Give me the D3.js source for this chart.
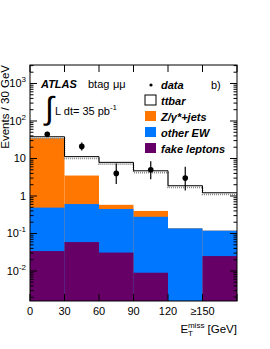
<!DOCTYPE html>
<head>
  <meta charset="utf-8">
  <script src="https://d3js.org/d3.v7.min.js"></script>
  <style>
    body { margin:0; background:#fff; }
    text { font-family: "Liberation Sans", Arial, sans-serif; fill:#000; }
  </style>
</head>
<body>
  <svg width="270" height="349"></svg>
  <script>
    var svg = d3.select("svg");

    // bins of 30 GeV, last bin is overflow (>=150)
    var binEdges = [0, 30, 60, 90, 120, 150, 180];
    var xTickLabels = ["0", "30", "60", "90", "120", "\u2265150"];

    // per-sample expectations (not stacked)
    var fake   = [0.034, 0.059, 0.031, 0.009, 0, 0.025];
    var otherEW = [0.456, 0.55, 0.42, 0.27, 0.137, 0.094];
    var zjets  = [34.5, 2.9, 0.13, 0.12, 0, 0];
    var ttbar  = [3.0, 7.7, 7.3, 4.3, 1.74, 1.1];

    // data with asymmetric (poisson) errors
    var dataX   = [15, 45, 75, 105, 135];
    var dataN   = [44, 21, 4, 5, 3];
    var dataLo  = [37.6, 16.4, 2.1, 2.8, 1.4];
    var dataHi  = [51.4, 26.6, 7.4, 8.4, 6.0];

    var yMin = 1.585e-3, yMax = 3112;

    var x = d3.scaleLinear().domain([0, 180]).range([30, 237]);
    var y = d3.scaleLog().domain([yMin, yMax]).range([301, 65]);

    var keys = ["fake", "otherEW", "zjets", "ttbar"];
    var colours = { fake: "#660066", otherEW: "#0077ff", zjets: "#ff7700", ttbar: "#ffffff" };

    var rows = d3.range(6).map(function(i) {
      return { x0: binEdges[i], x1: binEdges[i+1], fake: fake[i], otherEW: otherEW[i], zjets: zjets[i], ttbar: ttbar[i] };
    });
    var stacked = d3.stack().keys(keys)(rows);

    function yc(v) { return y(Math.max(v, yMin)); }

    // draw the stack back to front so lower layers sit on top
    stacked.slice().reverse().forEach(function(layer) {
      svg.append("g").selectAll("rect")
        .data(layer)
        .enter().append("rect")
        .attr("x", function(d) { return x(d.data.x0); })
        .attr("width", function(d) { return x(d.data.x1) - x(d.data.x0); })
        .attr("y", function(d) { return yc(d[1]); })
        .attr("height", function(d) { return Math.max(0, yc(0) - yc(d[1])); })
        .attr("fill", colours[layer.key]);
    });

    // total (ttbar top) step line with uncertainty hatch
    var totalLayer = stacked[stacked.length - 1];
    var stepPts = totalLayer.map(function(d) { return [d.data.x0, d[1]]; });
    stepPts.push([180, totalLayer[totalLayer.length - 1][1]]);
    var step = d3.line()
      .x(function(d) { return x(d[0]); })
      .y(function(d) { return yc(d[1]); })
      .curve(d3.curveStepAfter);

    svg.append("path")
      .attr("d", step(stepPts))
      .attr("transform", "translate(0,1.8)")
      .attr("fill", "none")
      .attr("stroke", "#8a8a8a")
      .attr("stroke-width", 1.6)
      .attr("stroke-dasharray", "1,1");
    svg.append("path")
      .attr("d", step(stepPts))
      .attr("fill", "none")
      .attr("stroke", "#000")
      .attr("stroke-width", 1);

    // data points
    var pts = svg.append("g");
    dataN.forEach(function(n, i) {
      pts.append("line")
        .attr("x1", x(dataX[i])).attr("x2", x(dataX[i]))
        .attr("y1", y(dataLo[i])).attr("y2", y(dataHi[i]))
        .attr("stroke", "#000").attr("stroke-width", 1.2);
      pts.append("circle")
        .attr("cx", x(dataX[i])).attr("cy", y(n))
        .attr("r", 2.8).attr("fill", "#000");
    });

    // frame
    svg.append("rect")
      .attr("x", 30).attr("y", 65).attr("width", 207).attr("height", 236)
      .attr("fill", "none").attr("stroke", "#000").attr("stroke-width", 1);

    // x ticks (bottom and top)
    var axisG = svg.append("g").attr("stroke", "#000").attr("stroke-width", 1);
    binEdges.forEach(function(v) {
      axisG.append("line").attr("x1", x(v)).attr("x2", x(v)).attr("y1", 301).attr("y2", 294);
      axisG.append("line").attr("x1", x(v)).attr("x2", x(v)).attr("y1", 65).attr("y2", 72);
    });
    svg.append("g").selectAll("text")
      .data(xTickLabels)
      .enter().append("text")
      .attr("x", function(d, i) { return x(binEdges[i]); })
      .attr("y", 315)
      .attr("text-anchor", "middle")
      .attr("font-size", 11)
      .text(function(d) { return d; });

    // y ticks, major + minor, both sides
    for (var e = -3; e <= 3; e++) {
      for (var k = 1; k <= 9; k++) {
        var v = k * Math.pow(10, e);
        if (v < yMin || v > yMax) continue;
        var len = k == 1 ? 7 : 3.5;
        axisG.append("line").attr("x1", 30).attr("x2", 30 + len).attr("y1", y(v)).attr("y2", y(v));
        axisG.append("line").attr("x1", 237).attr("x2", 237 - len).attr("y1", y(v)).attr("y2", y(v));
      }
    }
    var yTickExp = [-2, -1, 0, 1, 2, 3];
    yTickExp.forEach(function(p) {
      var t = svg.append("text")
        .attr("x", 26).attr("y", y(Math.pow(10, p)) + 4)
        .attr("text-anchor", "end")
        .attr("font-size", 11);
      if (p == 0) t.text("1");
      else if (p == 1) t.text("10");
      else {
        t.append("tspan").text("10");
        t.append("tspan").attr("dy", -5).attr("font-size", 8).text(p);
      }
    });

    // axis titles
    svg.append("text")
      .attr("transform", "translate(9,65) rotate(-90)")
      .attr("text-anchor", "end")
      .attr("font-size", 11.5)
      .text("Events / 30 GeV");

    var xt = svg.append("text")
      .attr("x", 237).attr("y", 333)
      .attr("text-anchor", "end")
      .attr("font-size", 11.5);
    xt.append("tspan").text("E");
    xt.append("tspan").attr("dy", 3).attr("font-size", 8).text("T");
    xt.append("tspan").attr("dx", -5).attr("dy", -8).attr("font-size", 8).text("miss");
    xt.append("tspan").attr("dy", 5).text("  [GeV]");

    // labels inside the plot
    svg.append("text").attr("x", 41).attr("y", 88)
      .attr("font-size", 11).attr("font-weight", "bold").attr("font-style", "italic")
      .text("ATLAS");
    svg.append("text").attr("x", 88).attr("y", 88).attr("font-size", 11).text("btag");
    svg.append("text").attr("x", 113).attr("y", 88).attr("font-size", 11).text("\u03bc\u03bc");
    svg.append("text").attr("x", 45).attr("y", 119).attr("font-size", 32)
      .attr("font-family", "Liberation Sans").text("\u222b");
    var lum = svg.append("text").attr("x", 55).attr("y", 115).attr("font-size", 11);
    lum.append("tspan").text("L dt= 35 pb");
    lum.append("tspan").attr("dy", -5).attr("font-size", 8).text("-1");

    svg.append("text").attr("x", 211).attr("y", 89).attr("font-size", 11).text("b)");

    // legend
    var legend = svg.append("g");
    legend.append("circle").attr("cx", 151).attr("cy", 85).attr("r", 1.6).attr("fill", "#000");
    var legItems = [
      { label: "ttbar", key: "ttbar" },
      { label: "Z/\u03b3*+jets", key: "zjets" },
      { label: "other EW", key: "otherEW" },
      { label: "fake leptons", key: "fake" }
    ];
    var legText = [{ label: "data" }].concat(legItems);
    legend.selectAll("text")
      .data(legText)
      .enter().append("text")
      .attr("x", 161)
      .attr("y", function(d, i) { return 89 + i * 15.9; })
      .attr("font-size", 11).attr("font-weight", "bold").attr("font-style", "italic")
      .text(function(d) { return d.label; });
    legend.selectAll("rect")
      .data(legItems)
      .enter().append("rect")
      .attr("x", 145)
      .attr("y", function(d, i) { return 95 + i * 16; })
      .attr("width", 11).attr("height", 10)
      .attr("fill", function(d) { return colours[d.key]; })
      .attr("stroke", function(d) { return d.key == "ttbar" ? "#000" : "none"; })
      .attr("stroke-width", 1);
  </script>
</body>
